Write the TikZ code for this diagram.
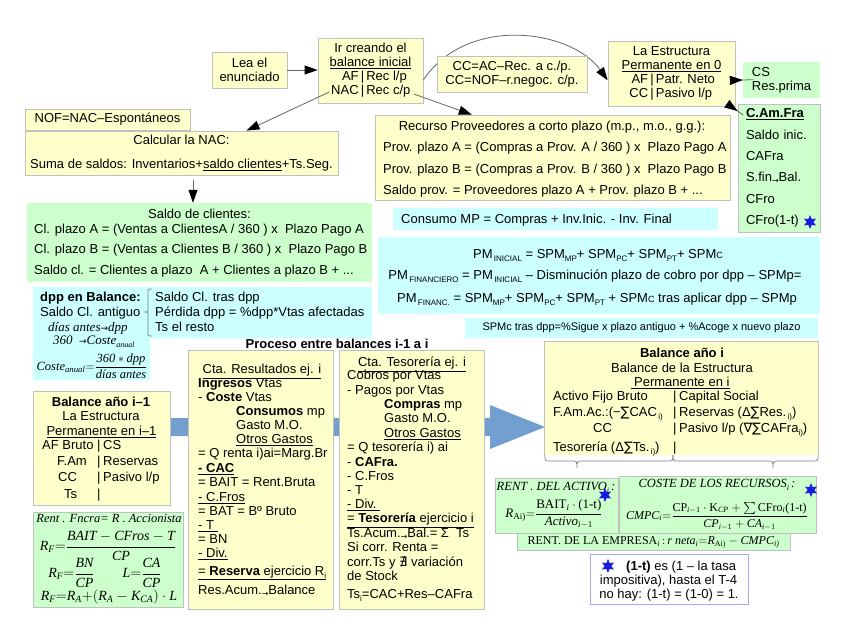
\documentclass[tikz,border=0pt]{standalone}
\usepackage{amsmath}
\usepackage{fontspec}
\setmainfont{Liberation Sans}
\newfontfamily\tms{Liberation Serif}
\newfontfamily\djv{DejaVu Sans}
\usetikzlibrary{arrows.meta,shapes.geometric}
\definecolor{yel}{HTML}{FFFFCC}
\definecolor{grn}{HTML}{CCFFCC}
\definecolor{cyn}{HTML}{CCFFFF}
\definecolor{bord}{HTML}{C0C0C0}
\definecolor{arrb}{HTML}{729FCF}
\definecolor{lin}{HTML}{666666}
\definecolor{starb}{HTML}{1A1AE0}
\definecolor{noteb}{HTML}{A8A8F0}
\newcommand\sbs[1]{\raisebox{-3pt}{\fontsize{8}{8}\selectfont #1}}
\newcommand\sarr{\raisebox{-2pt}{\djv\fontsize{8}{8}\selectfont →}}
\newcommand\ti[1]{\text{\tms\itshape #1}}
\newcommand\tu[1]{\text{\tms #1}}
\newcounter{tnc}
\newcommand\Tx[3][]{\stepcounter{tnc}\node[txt,#1] (tx\arabic{tnc}) at (#2) {#3};}
\tikzset{
  ybox/.style={draw=bord, fill=yel, line width=0.8pt, inner sep=0pt},
  gbox/.style={draw=bord, fill=grn, line width=0.8pt, inner sep=0pt},
  gboxn/.style={fill=grn, inner sep=0pt},
  cbox/.style={fill=cyn, inner sep=0pt},
  txt/.style={inner sep=0pt, anchor=base west},
  fml/.style={inner sep=0pt},
  conn/.style={draw=lin, line width=0.8pt, -{Triangle[length=13pt,width=9pt,color=black,fill=black]}},
  brc/.style={draw=gray, line width=0.7pt},
  bstar/.style={star, star points=6, star point ratio=2.1, fill=starb, draw=none, minimum size=14pt, inner sep=0pt}
}
\begin{document}
\begin{tikzpicture}[x=1pt,y=-1pt,font=\fontsize{13}{14}\selectfont]
\useasboundingbox (0,0) rectangle (848,635);
\fill[white] (0,0) rectangle (848,635);

% big blue arrow behind the process boxes
\fill[arrb] (160,418) -- (490,418) -- (490,405) -- (545,427) -- (490,449) -- (490,436) -- (160,436) -- cycle;

% ---------- top boxes ----------
\node[ybox,minimum width=75,minimum height=36,align=center] (lea) at (249.5,70) {Lea el\\enunciado};
\node[ybox,minimum width=105,minimum height=65,align=center] (ir) at (370.5,70.5)
  {Ir creando el\\\underline{balance inicial}\\\makebox[31pt][r]{AF}\,|\,\makebox[47pt][l]{Rec l/p}\\\makebox[31pt][r]{NAC}\,|\,\makebox[47pt][l]{Rec c/p}};
\node[ybox,minimum width=127,minimum height=65,align=center] (est) at (671.5,73.5)
  {La Estructura\\\underline{Permanente en 0}\\\makebox[24pt][r]{AF}\,|\,\makebox[63pt][l]{Patr. Neto}\\\makebox[24pt][r]{CC}\,|\,\makebox[63pt][l]{Pasivo l/p}};
\node[gboxn,minimum width=77,minimum height=36,align=left] (cs) at (781.5,80) {CS\\Res.prima};
\node[gbox,minimum width=82,minimum height=128,text width=66pt,align=left,font=\fontsize{13}{21.4}\selectfont] (camfra) at (779,168)
  {\textbf{\underline{C.Am.Fra}}\\Saldo inic.\\CAFra\\S.fin\sarr Bal.\\CFro\\CFro(1-t)};
\node[bstar] (st1) at (810,222) {};

\node[ybox,minimum width=165,minimum height=21] (nof) at (107.5,119.5) {NOF=NAC–Espontáneos};
\node[ybox,minimum width=313,minimum height=44,align=center] (nac) at (181.5,153)
  {Calcular la NAC:\\[10pt]Suma de saldos: Inventarios+\underline{saldo clientes}+Ts.Seg.};

\node[gboxn,minimum width=345,minimum height=79] (sal) at (199.5,242.5) {};
\Tx[anchor=base]{199.5,218.5}{Saldo de clientes:}
\Tx{34,233.5}{Cl. plazo A = (Ventas a ClientesA / 360 ) x \ Plazo Pago A}
\Tx{34,253.5}{Cl. plazo B = (Ventas a Clientes B / 360 ) x \ Plazo Pago B}
\Tx{34,274.5}{Saldo cl. = Clientes a plazo \ A + Clientes a plazo B + ...}

\node[ybox,minimum width=355,minimum height=85] (rec) at (552.5,157.5) {};
\Tx[anchor=base]{552,130.5}{Recurso Proveedores a corto plazo (m.p., m.o., g.g.):}
\Tx{383,151.5}{Prov. plazo A = (Compras a Prov. A / 360 ) x \ Plazo Pago A}
\Tx{383,173.5}{Prov. plazo B = (Compras a Prov. B / 360 ) x \ Plazo Pago B}
\Tx{383,194.5}{Saldo prov. = Proveedores plazo A + Prov. plazo B + ...}

\node[cbox,minimum width=325,minimum height=22] (con) at (555.5,219) {};
\Tx{401,223.5}{Consumo MP = Compras + Inv.Inic. - Inv. Final}

\node[cbox,minimum width=442,minimum height=77] (pm) at (599,275.5) {};
\Tx[anchor=base]{598,258.5}{PM\sbs{\,INICIAL} = SPM\sbs{MP}+ SPM\sbs{PC}+ SPM\sbs{PT}+ SPM{\fontsize{9}{9}\selectfont C}}
\Tx[anchor=base]{595,279.5}{PM\sbs{\,FINANCIERO} = PM\sbs{\,INICIAL} – Disminución plazo de cobro por dpp – SPMp=}
\Tx[anchor=base]{597,302.5}{PM\sbs{\,FINANC.} = SPM\sbs{MP}+ SPM\sbs{PC}+ SPM\sbs{PT} + SPM{\fontsize{9}{9}\selectfont C} tras aplicar dpp – SPMp}

\node[cbox,minimum width=353,minimum height=20,font=\fontsize{11}{12}\selectfont] (spm) at (641.5,328)
  {SPMc tras dpp=\%Sigue x plazo antiguo + \%Acoge x nuevo plazo};

% ---------- dpp region ----------
\fill[cyn] (33,287) -- (372,287) -- (372,338) -- (150,338) -- (150,380) -- (33,380) -- cycle;
\Tx{40,301.5}{\textbf{dpp en Balance:}}
\Tx{40,316.5}{Saldo Cl. antiguo}
\Tx{48,331}{\tms\itshape días antes{\upshape\djv\fontsize{9}{9}\selectfont →}dpp}
\Tx{53,344}{\tms\itshape 360\ \ {\upshape\djv\fontsize{9}{9}\selectfont →}Coste\sbs{anual}}
\node[fml,font=\fontsize{12.5}{14}\selectfont] (dppf) at (92,366) {$\ti{Coste}_{\ti{anual}}{=}\dfrac{\ti{360}\ast\ti{dpp}}{\ti{días antes}}$};
\draw[brc] (152,289) .. controls (148,289) .. (148,294) -- (148,308) .. controls (148,312) .. (144,312)
  .. controls (148,312) .. (148,316) -- (148,331) .. controls (148,336) .. (152,336);
\Tx{155,301.5}{Saldo Cl. tras dpp}
\Tx{155,316.5}{Pérdida dpp = \%dpp*Vtas afectadas}
\Tx{155,331.5}{Ts el resto}

\Tx[anchor=base]{337,348.5}{\textbf{Proceso entre balances i-1 a i}}

% ---------- balance i-1 ----------
\node[ybox,minimum width=137,minimum height=114] (bal1) at (101.5,448) {};
\Tx[anchor=base]{101,406.5}{\textbf{Balance año i–1}}
\Tx[anchor=base]{101,420.5}{La Estructura}
\Tx[anchor=base]{101.5,435.5}{\underline{Permanente en i–1}}
\Tx{42,449}{AF Bruto}\Tx{97,449}{|}\Tx{103,449}{CS}
\Tx{57,465}{F.Am}\Tx{97,465}{|}\Tx{103,465}{Reservas}
\Tx{58,481.5}{CC}\Tx{97,481.5}{|}\Tx{103,481.5}{Pasivo l/p}
\Tx{64,498.5}{Ts}\Tx{97,498.5}{|}

% ---------- rentabilidad financiera ----------
\node[gbox,minimum width=150,minimum height=95] (rf) at (108,559.5) {};
\Tx[anchor=base]{109,522.5}{\fontsize{12.5}{14}\tms\itshape Rent . Fncra= R . Accionista}
\node[fml,font=\fontsize{14}{16}\selectfont] (rf1) at (108,546) {$\ti{R}_{\ti{F}}{=}\dfrac{\ti{BAIT}-\ti{CFros}-\ti{T}}{\ti{CP}}$};
\node[fml,font=\fontsize{14}{16}\selectfont] (rf2) at (105,573) {$\ti{R}_{\ti{F}}{=}\dfrac{\ti{BN}}{\ti{CP}}\qquad \ti{L}{=}\dfrac{\ti{CA}}{\ti{CP}}$};
\node[fml,anchor=base,font=\fontsize{14}{16}\selectfont] (rf3) at (109,600.5) {$\ti{R}_{\ti{F}}{=}\ti{R}_{\ti{A}}{+}(\ti{R}_{\ti{A}}-\ti{K}_{\ti{CA}})\cdot \ti{L}$};

% ---------- cuenta de resultados ----------
\node[ybox,minimum width=145,minimum height=259] (cres) at (260.5,479.5) {};
\Tx[anchor=base]{262,373.5}{\underline{Cta. Resultados ej. i}}
\Tx{198,387.5}{\textbf{Ingresos} Vtas}
\Tx{198,401.5}{- \textbf{Coste} Vtas}
\Tx{236,415.5}{\textbf{Consumos} mp}
\Tx{236,429.5}{Gasto M.O.}
\Tx{236,443.5}{\underline{Otros Gastos}}
\Tx{198,457.5}{= Q renta i)ai=Marg.Br}
\Tx{198,472.5}{\underline{\textbf{- CAC}}}
\Tx{198,486.5}{= BAIT = Rent.Bruta}
\Tx{198,501.5}{\underline{- C.Fros}}
\Tx{198,515.5}{= BAT = Bº Bruto}
\Tx{198,529.5}{\underline{- T\ }}
\Tx{198,543.5}{= BN}
\Tx{198,557.5}{\underline{- Div.}}
\Tx{198,575}{\underline{= \textbf{Reserva} ejercicio R\sbs{i}}}
\Tx{198,594.5}{Res.Acum.\sarr Balance}

% ---------- cuenta de tesoreria ----------
\node[ybox,minimum width=145,minimum height=259] (ctes) at (411.5,479.5) {};
\Tx[anchor=base]{412,366.5}{\underline{Cta. Tesorería ej. i}}
\Tx{347,379.5}{Cobros por Vtas}
\Tx{347,394.5}{- Pagos por Vtas}
\Tx{384,408.5}{\textbf{Compras} mp}
\Tx{384,422.5}{Gasto M.O.}
\Tx{384,437.5}{\underline{Otros Gastos}}
\Tx{347,451.5}{= Q tesorería i) ai}
\Tx{347,466.5}{- \textbf{CAFra.}}
\Tx{347,480.5}{- C.Fros}
\Tx{347,494.5}{- T}
\Tx{347,508.5}{\underline{- Div.\ }}
\Tx{347,522.5}{\underline{= \textbf{Tesorería} ejercicio i}}
\Tx{347,537.5}{Ts.Acum.\sarr Bal.= Σ \ Ts}
\Tx{347,551.5}{Si corr. Renta =}
\Tx{347,566.5}{corr.Ts y {\djv ∄} variación}
\Tx{347,580.5}{de Stock}
\Tx{347,598.5}{Ts\sbs{i}=CAC+Res–CAFra}

% ---------- balance i ----------
\node[fill=yel,inner sep=0pt,minimum width=273,minimum height=113] (bal2) at (681.5,398.5) {};
\draw[draw=bord,line width=0.8pt] (bal2.south west) -- (bal2.north west) -- (bal2.north east) -- (bal2.south east);
\Tx[anchor=base]{682,357.5}{\textbf{Balance año i}}
\Tx[anchor=base]{682,372.5}{Balance de la Estructura}
\Tx[anchor=base]{680,386.5}{\underline{\ Permanente en i}}
\Tx{553,400.5}{Activo Fijo Bruto}\Tx{673,400.5}{|}\Tx{679,400.5}{Capital Social}
\Tx{553,416.5}{F.Am.Ac.:(−{\djv∑}CAC\sbs{\,i)}}\Tx{673,416.5}{|}\Tx{679,416.5}{Reservas (Δ{\djv∑}Res.\sbs{\,i)})}
\Tx{593,432.5}{CC}\Tx{673,432.5}{|}\Tx{679,432.5}{Pasivo l/p ({\djv∇∑}CAFra\sbs{i)})}
\Tx{553,451.5}{Tesorería (Δ{\djv∑}Ts.\sbs{\,i)})}\Tx{673,451.5}{|}
\draw[brc] (bal2.south west) .. controls (545,461) .. (551,461) -- (571,461) .. controls (577,461) .. (577,468)
  .. controls (577,461) .. (583,461) -- (667,461) .. controls (673,461) .. (673,455);
\draw[brc] (673,455) .. controls (673,461) .. (679,461) -- (767,461) .. controls (773,461) .. (773,468)
  .. controls (773,461) .. (779,461) -- (812,461) .. controls (818,461) .. (bal2.south east);

% ---------- rentabilidades ----------
\node[gbox,minimum width=123,minimum height=55] (ra) at (556.5,505.5) {};
\node[gbox,minimum width=197,minimum height=57] (cr) at (717.5,504.5) {};
\node[gbox,minimum width=273,minimum height=17] (re) at (653.5,541.5) {};
\Tx[anchor=base]{556,490.5}{\fontsize{12.5}{14}\tms\itshape RENT . DEL ACTIVO\sbs{i}\,:}
\node[fml,font=\fontsize{13}{15}\selectfont] (raf) at (554,514) {$\ti{R}_{\tu{Ai)}}{=}\dfrac{\tu{BAIT}_{\ti{i}}\cdot\tu{(1-t)}}{\ti{Activo}_{\ti{i}-1}}$};
\node[bstar] (st2) at (605,495) {};
\Tx[anchor=base]{717,487.5}{\fontsize{12.5}{14}\tms\itshape COSTE DE LOS RECURSOS\sbs{i}\,:}
\node[fml,font=\fontsize{12}{14}\selectfont] (crf) at (717,516) {$\ti{CMPC}_{\ti{i}}{=}\dfrac{\tu{CP}_{\ti{i}-1}\cdot\tu{K}_{\ti{CP}}+\sum\tu{CFro}_{\ti{i}}\tu{(1-t)}}{\ti{CP}_{\ti{i}-1}+\ti{CA}_{\ti{i}-1}}$};
\node[bstar] (st3) at (811,490) {};
\node[fml,font=\fontsize{12}{14}\selectfont] (ref) at (653.5,542)
  {{\tms RENT. DE LA EMPRESA}$_{\ti{i}}\,{:}\,\ti{r neta}_{\ti{i}}{=}\ti{R}_{\tu{Ai)}}-\ti{CMPC}_{\ti{i)}}$};

% ---------- note ----------
\node[draw=noteb,fill=white,line width=1pt,minimum width=158,minimum height=50] (note) at (669,579) {};
\node[bstar] (st4) at (608,566) {};
\Tx{626,570.5}{\textbf{(1-t)} es (1 – la tasa}
\Tx[anchor=base]{668.5,584.5}{impositiva), hasta el T-4}
\Tx[anchor=base]{669,598.5}{no hay: (1-t) = (1-0) = 1.}

% ---------- connectors ----------
\draw[conn] (lea.east) -- (lea.east -| ir.west);
\draw[conn,shorten <=-13pt] (ir.207) -- (nac.19.7);
\draw[conn,shorten <=-10pt] (ir.333) -- (rec.152.75);
\draw[conn] (ir.350) .. controls (468,14) and (572,30) .. (est.186);
\draw[conn,shorten <=-18pt] (est.-6.7) -- (cs.west);
\draw[conn,shorten <=-15pt] (est.-29) -- (camfra.126.2);
\coordinate (nacd) at (193,180);
\draw[conn] (nacd) -- (nacd |- sal.north);

% box drawn over the curved connector
\node[ybox,minimum width=150,minimum height=36,align=center] (cc) at (512,74) {CC=AC–Rec. a c./p.\\CC=NOF–r.negoc. c/p.};
\end{tikzpicture}
\end{document}
